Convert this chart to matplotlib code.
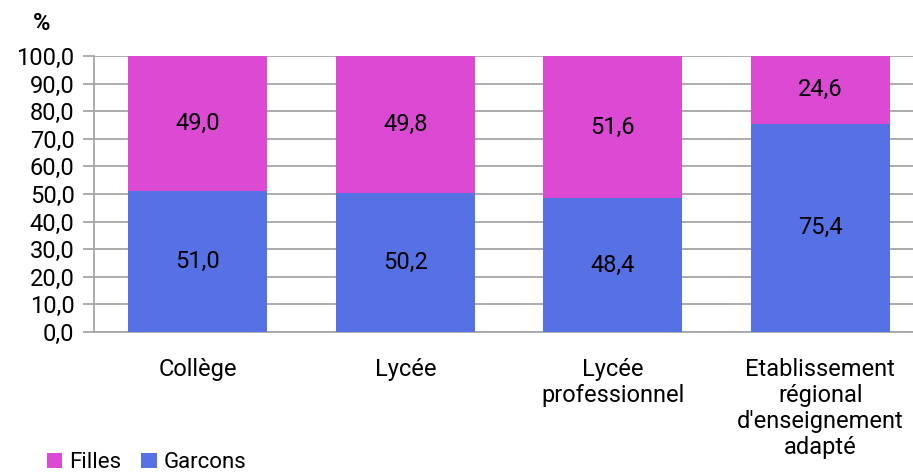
import matplotlib
matplotlib.use("Agg")
import matplotlib.pyplot as plt
import numpy as np

categories = ["Collège", "Lycée", "Lycée\nprofessionnel",
              "Etablissement\nrégional\nd'enseignement\nadapté"]
garcons = [51.0, 50.2, 48.4, 75.4]
filles = [49.0, 49.8, 51.6, 24.6]
yticks = [0, 10, 20, 30, 40, 50, 60, 70, 80, 90, 100]

pink = "#DC4AD4"
blue = "#5571E3"
grid = "#A6A6A6"

plt.rcParams['font.family'] = ['Roboto', 'DejaVu Sans']

fig = plt.figure(figsize=(9.13, 4.76), dpi=100)
ax = fig.add_axes([94/913, (476-332)/476, (913-94)/913, 276/476])

x = np.arange(len(categories))
w = 0.67
ax.bar(x, garcons, w, color=blue, label="Garcons", zorder=3)
ax.bar(x, filles, w, bottom=garcons, color=pink, label="Filles", zorder=3)

for xi, g, f in zip(x, garcons, filles):
    ax.text(xi, g / 2, f"{g:.1f}".replace(".", ","), ha="center", va="center",
            fontsize=17, color="black", zorder=4)
    ax.text(xi, g + f / 2, f"{f:.1f}".replace(".", ","), ha="center", va="center",
            fontsize=17, color="black", zorder=4)

ax.set_xlim(-0.5, -0.5 + 819/207.5)
ax.set_ylim(0, 100)
ax.set_yticks(yticks)
ax.set_yticklabels([f"{v:.1f}".replace(".", ",") for v in yticks], fontsize=17)
ax.yaxis.grid(True, color=grid, linewidth=1.3, zorder=0)
ax.tick_params(axis="y", length=8, width=1.3, color=grid, pad=6)
ax.set_xticks(x)
ax.set_xticklabels(categories, fontsize=17, linespacing=1.16)
ax.tick_params(axis="x", length=0, pad=19)
for s in ["top", "right"]:
    ax.spines[s].set_visible(False)
for s in ["left", "bottom"]:
    ax.spines[s].set_color(grid)
    ax.spines[s].set_linewidth(1.3)

fig.text(42/913, 1 - 24/476, "%", fontsize=17, fontweight="bold", ha="center", va="center")

handles, labels = ax.get_legend_handles_labels()
leg = fig.legend(handles[::-1], labels[::-1], loc="lower left",
                 bbox_to_anchor=(38/913, -6/476), ncol=2, frameon=False,
                 fontsize=16, handlelength=0.7, handleheight=0.7,
                 handletextpad=0.3, columnspacing=0.9, borderaxespad=0)

fig.savefig("out.png", dpi=100)
